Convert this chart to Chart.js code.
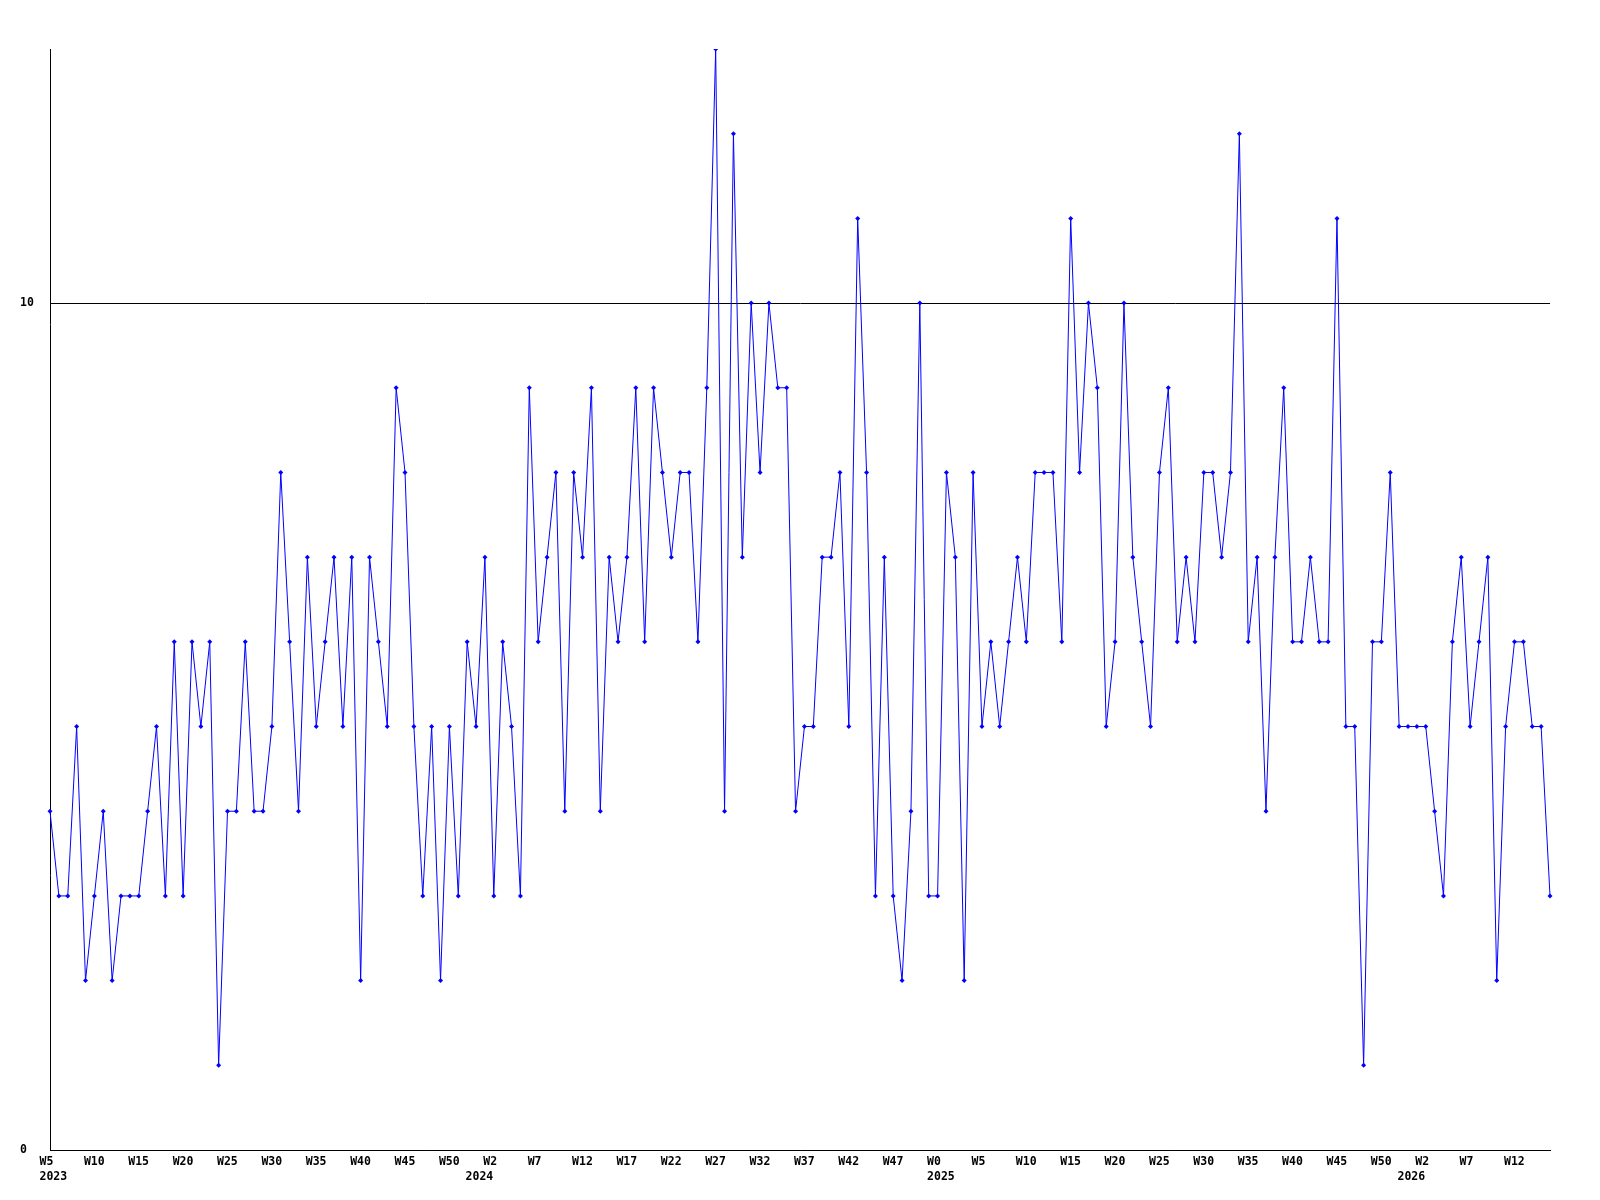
<!DOCTYPE html>
<html>
<head>
<meta charset="utf-8">
<style>
  html, body { margin: 0; padding: 0; background: #ffffff; }
  #wrap { width: 1600px; height: 1200px; }
  canvas { display: block; }
</style>
<script src="https://cdn.jsdelivr.net/npm/chart.js@4/dist/chart.umd.min.js"></script>
</head>
<body>
<div id="wrap"><canvas id="c" width="1600" height="1200"></canvas></div>
<script>
// ---- Data ----
const weeks2023 = ['W5','W6','W7','W8','W9','W10','W11','W12','W13','W14','W15','W16','W17','W18','W19','W20','W21','W22','W23','W24','W25','W26','W27','W28','W29','W30','W31','W32','W33','W34','W35','W36','W37','W38','W39','W40','W41','W42','W43','W44','W45','W46','W47','W48','W49','W50','W51','W52'];
const weeks2024 = ['W0','W1','W2','W3','W4','W5','W6','W7','W8','W9','W10','W11','W12','W13','W14','W15','W16','W17','W18','W19','W20','W21','W22','W23','W24','W25','W26','W27','W28','W29','W30','W31','W32','W33','W34','W35','W36','W37','W38','W39','W40','W41','W42','W43','W44','W45','W46','W47','W48','W49','W50','W51'];
const weeks2025 = ['W0','W1','W2','W3','W4','W5','W6','W7','W8','W9','W10','W11','W12','W13','W14','W15','W16','W17','W18','W19','W20','W21','W22','W23','W24','W25','W26','W27','W28','W29','W30','W31','W32','W33','W34','W35','W36','W37','W38','W39','W40','W41','W42','W43','W44','W45','W46','W47','W48','W49','W50','W51','W52'];
const weeks2026 = ['W0','W1','W2','W3','W4','W5','W6','W7','W8','W9','W10','W11','W12','W13','W14','W15','W16'];
const categories = weeks2023.concat(weeks2024, weeks2025, weeks2026);

const yearLabels = ['2023', '2024', '2025', '2026'];
const yearLabelAt = [0, 48, 100, 153];   // index of the first point of each year
const labelEvery = 5;                     // a week label every 5th point

const values = [
  4,3,3,5,2,3,4,2,3,3,
  3,4,5,3,6,3,6,5,6,1,
  4,4,6,4,4,5,8,6,4,7,
  5,6,7,5,7,2,7,6,5,9,
  8,5,3,5,2,5,3,6,5,7,
  3,6,5,3,9,6,7,8,4,8,
  7,9,4,7,6,7,9,6,9,8,
  7,8,8,6,9,13,4,12,7,10,
  8,10,9,9,4,5,5,7,7,8,
  5,11,8,3,7,3,2,4,10,3,
  3,8,7,2,8,5,6,5,6,7,
  6,8,8,8,6,11,8,10,9,5,
  6,10,7,6,5,8,9,6,7,6,
  8,8,7,8,12,6,7,4,7,9,
  6,6,7,6,6,11,5,5,1,6,
  6,8,5,5,5,5,4,3,6,7,
  5,6,7,2,5,6,6,5,5,3
];

const yTicks = [0, 10];
const yMin = 0;
const yMax = 13;

// ---- Chart ----
const tickFont = { family: "'DejaVu Sans Mono', monospace", size: 11.5, weight: 'bold', lineHeight: 1.3 };

new Chart(document.getElementById('c'), {
  type: 'line',
  data: {
    labels: categories,
    datasets: [{
      data: values,
      borderColor: '#0000ff',
      borderWidth: 1,
      backgroundColor: '#0000ff',
      pointStyle: 'rectRot',
      pointRadius: 2.5,
      pointBackgroundColor: '#0000ff',
      pointBorderColor: '#0000ff',
      pointBorderWidth: 0,
      tension: 0,
      fill: false
    }]
  },
  options: {
    responsive: false,
    animation: false,
    devicePixelRatio: 1,
    layout: { padding: { left: 20, right: 50, top: 49, bottom: 0 } },
    plugins: {
      legend: { display: false },
      tooltip: { enabled: false },
      title: { display: false }
    },
    scales: {
      x: {
        type: 'category',
        offset: false,
        grid: { display: false, drawTicks: false },
        border: { display: true, color: '#000000', width: 1 },
        ticks: {
          autoSkip: false,
          maxRotation: 0,
          minRotation: 0,
          align: 'start',
          labelOffset: -10.5,
          padding: 4.4,
          color: '#000000',
          font: tickFont,
          callback: function (value, index) {
            const w = (index % labelEvery === 0) ? categories[index] : '';
            const y = yearLabelAt.indexOf(index);
            if (y >= 0) return [w, yearLabels[y]];
            return w;
          }
        },
        afterFit: function (s) { s.height = 50; }
      },
      y: {
        min: yMin,
        max: yMax,
        afterBuildTicks: function (s) { s.ticks = yTicks.map(v => ({ value: v })); },
        grid: { color: '#000000', lineWidth: 1, drawTicks: false },
        border: { display: true, color: '#000000', width: 1 },
        ticks: {
          crossAlign: 'far',
          padding: 0,
          color: '#000000',
          font: tickFont
        },
        afterFit: function (s) { s.width = 30; }
      }
    }
  }
});
</script>
</body>
</html>
